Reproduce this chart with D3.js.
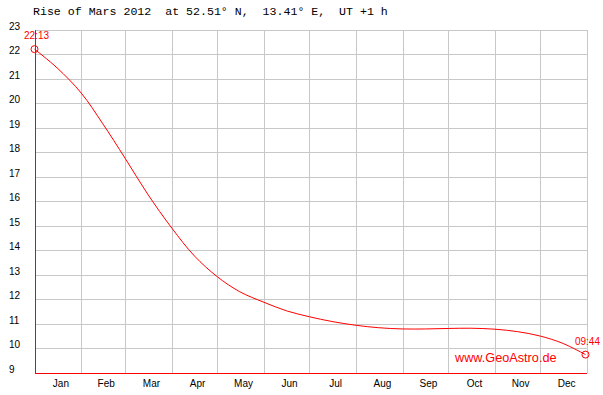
<!DOCTYPE html>
<html>
<head>
<meta charset="utf-8">
<script src="https://cdn.jsdelivr.net/npm/d3@7"></script>
<style>
  body { margin: 0; background: #fff; }
  svg { display: block; }
</style>
</head>
<body>
<div class="canva"></div>
<script>
// Rise of Mars 2012, Berlin (52.51 N, 13.41 E), local time UT+1, decimal hours
const riseDates = ["2012-01-01","2012-01-16","2012-02-01","2012-02-15","2012-03-01","2012-03-16",
                   "2012-04-01","2012-04-16","2012-05-01","2012-05-16","2012-06-01","2012-06-16",
                   "2012-07-01","2012-07-16","2012-08-01","2012-08-16","2012-09-01","2012-09-16",
                   "2012-10-01","2012-10-16","2012-11-01","2012-11-16","2012-12-01","2012-12-16","2012-12-31"];
const riseHours = [22.217, 21.45, 20.42, 19.19, 17.76, 16.29,
                   14.90, 13.76, 12.92, 12.30, 11.87, 11.52,
                   11.28, 11.085, 10.93, 10.83, 10.78, 10.78,
                   10.80, 10.81, 10.77, 10.67, 10.49, 10.19, 9.733];
const monthLabels = ["Jan","Feb","Mar","Apr","May","Jun","Jul","Aug","Sep","Oct","Nov","Dec"];
const hourTicks = d3.range(9, 24);
const titleText = "Rise of Mars 2012  at 52.51\u00b0 N,  13.41\u00b0 E,  UT +1 h";
const siteText = "www.GeoAstro.de";

const width = 603, height = 395;
const data = riseDates.map((d, i) => ({ date: new Date(d + "T00:00:00Z"), hour: riseHours[i] }));

const svg = d3.select(".canva").append("svg")
    .attr("width", width)
    .attr("height", height);

const x = d3.scaleUtc()
    .domain([new Date("2012-01-01T00:00:00Z"), new Date("2013-01-01T00:00:00Z")])
    .range([34.5, 587]);

const y = d3.scaleLinear()
    .domain([9, 23])
    .range([372.5, 30]);

const px = v => Math.round(v) + 0.5;
const grid = svg.append("g").attr("shape-rendering", "crispEdges");

// horizontal grid
grid.selectAll("line.h")
    .data(hourTicks.filter(h => h > 9))
    .enter().append("line")
    .attr("x1", x.range()[0]).attr("x2", x.range()[1])
    .attr("y1", d => px(y(d))).attr("y2", d => px(y(d)))
    .attr("stroke", "#c8c8c8");

// vertical grid at month starts (+ end of year)
const monthStarts = d3.utcMonth.range(new Date("2012-01-01T00:00:00Z"), new Date("2013-01-02T00:00:00Z"));
grid.selectAll("line.v")
    .data(monthStarts.slice(1))
    .enter().append("line")
    .attr("x1", d => px(x(d))).attr("x2", d => px(x(d)))
    .attr("y1", y(23)).attr("y2", y(9))
    .attr("stroke", "#c8c8c8");

// red axes
grid.append("line")
    .attr("x1", px(x.range()[0])).attr("x2", px(x.range()[0]))
    .attr("y1", y(23)).attr("y2", px(y(9)))
    .attr("stroke", "red");
grid.append("line")
    .attr("x1", x.range()[0]).attr("x2", x.range()[1])
    .attr("y1", px(y(9))).attr("y2", px(y(9)))
    .attr("stroke", "red");

// hour labels
svg.selectAll("text.hour")
    .data(hourTicks)
    .enter().append("text")
    .attr("x", 9)
    .attr("y", d => Math.round(y(d)))
    .attr("font-family", "Liberation Sans, Arial, sans-serif")
    .attr("font-size", "10px")
    .attr("fill", "#000")
    .text(d => d);

// month labels
svg.selectAll("text.month")
    .data(monthStarts.slice(0, 12))
    .enter().append("text")
    .attr("x", (d, i) => (x(d) + x(monthStarts[i + 1])) / 2 + 3)
    .attr("y", 387)
    .attr("text-anchor", "middle")
    .attr("font-family", "Liberation Sans, Arial, sans-serif")
    .attr("font-size", "10px")
    .attr("fill", "#000")
    .text((d, i) => monthLabels[i]);

// title
svg.append("text")
    .attr("x", 33)
    .attr("y", 15)
    .attr("font-family", "Liberation Mono, Courier New, monospace")
    .attr("font-size", "11.6px")
    .attr("fill", "#000")
    .attr("xml:space", "preserve")
    .style("white-space", "pre")
    .text(titleText);

// watermark
svg.append("text")
    .attr("x", 455)
    .attr("y", 362)
    .attr("font-family", "Liberation Sans, Arial, sans-serif")
    .attr("font-size", "12.7px")
    .attr("fill", "red")
    .text(siteText);

// curve
const line = d3.line()
    .x(d => x(d.date))
    .y(d => y(d.hour))
    .curve(d3.curveCatmullRom.alpha(0.5));

svg.append("path")
    .datum(data)
    .attr("d", line)
    .attr("fill", "none")
    .attr("stroke", "red")
    .attr("stroke-width", 1);

// end markers with times
const ends = [data[0], data[data.length - 1]];
const fmtTime = h => {
    const m = Math.round(h * 60);
    return d3.format("02d")(Math.floor(m / 60)) + ":" + d3.format("02d")(m % 60);
};

svg.selectAll("circle.end")
    .data(ends)
    .enter().append("circle")
    .attr("cx", d => x(d.date))
    .attr("cy", d => y(d.hour))
    .attr("r", 3.5)
    .attr("fill", "none")
    .attr("stroke", "red");

svg.selectAll("text.end")
    .data(ends)
    .enter().append("text")
    .attr("x", d => x(d.date) + 2)
    .attr("y", d => y(d.hour) - 10)
    .attr("text-anchor", "middle")
    .attr("font-family", "Liberation Sans, Arial, sans-serif")
    .attr("font-size", "10px")
    .attr("fill", "red")
    .text(d => fmtTime(d.hour));
</script>
</body>
</html>
